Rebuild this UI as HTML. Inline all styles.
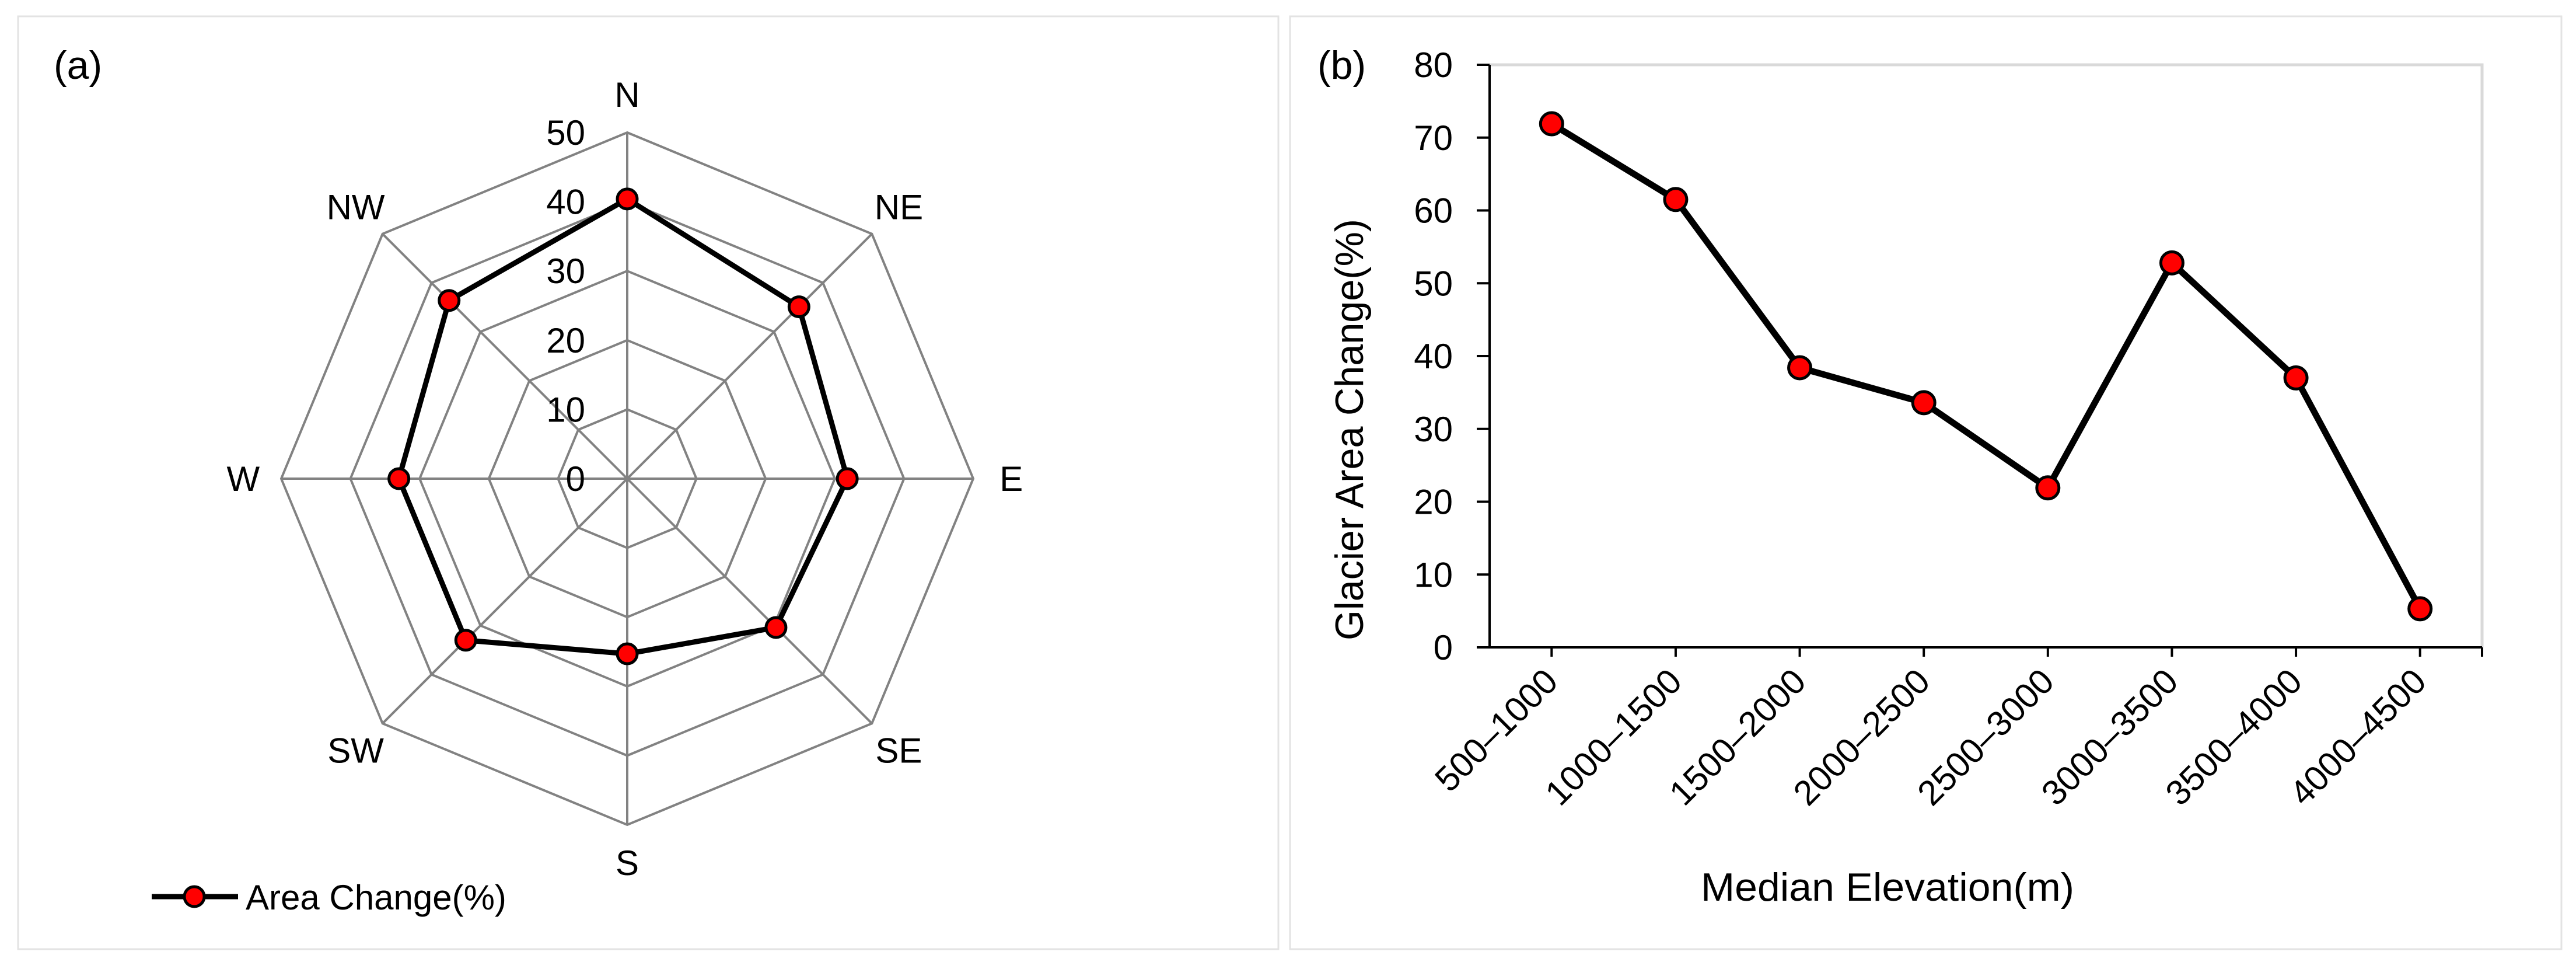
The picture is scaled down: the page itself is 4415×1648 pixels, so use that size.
<!DOCTYPE html>
<html><head><meta charset="utf-8"><style>
html,body{margin:0;padding:0;background:#fff;}
svg{display:block;font-family:"Liberation Sans",sans-serif;}
</style></head><body>
<svg id="fig" width="4415" height="1648" viewBox="0 0 4415 1648" xmlns="http://www.w3.org/2000/svg">
<rect x="31" y="28" width="2160" height="1598" fill="none" stroke="#e3e3e3" stroke-width="3"/>
<rect x="2211" y="28" width="2179" height="1598" fill="none" stroke="#e3e3e3" stroke-width="3"/>
<text x="92" y="135" font-size="68">(a)</text>
<text x="2258" y="135" font-size="68">(b)</text>
<g id="radar"></g>
<g id="line"></g>
</svg>
<script>
const NS='http://www.w3.org/2000/svg';
function mk(p,t,a){const e=document.createElementNS(NS,t);for(const k in a)e.setAttribute(k,a[k]);p.appendChild(e);return e;}

// Radar data
const dirs=['N','NE','E','SE','S','SW','W','NW'];
const dirValues=[40.4,35.1,31.8,30.4,25.3,33.0,33.0,36.4];
const radarTicks=[0,10,20,30,40,50];

// Line data
const elevCats=['500–1000','1000–1500','1500–2000','2000–2500','2500–3000','3000–3500','3500–4000','4000–4500'];
const areaChange=[71.9,61.5,38.4,33.6,21.9,52.8,37.0,5.3];
const yTicks=[0,10,20,30,40,50,60,70,80];

// ---- radar ----
(function(){
const g=document.getElementById('radar');
const cx=1075,cy=820,R=593,max=50;
function pt(i,v){const a=-Math.PI/2+i*2*Math.PI/dirs.length;const r=v/max*R;return [cx+r*Math.cos(a),cy+r*Math.sin(a)];}
radarTicks.slice(1).forEach(t=>{
 const pts=dirs.map((d,i)=>pt(i,t).join(',')).join(' ');
 const e=mk(g,'polygon',{points:pts,fill:'none',stroke:'#828282','stroke-width':4});
 
 
});
dirs.forEach((d,i)=>{
 const p=pt(i,max);
 const e=mk(g,'line',{x1:cx,y1:cy,x2:p[0],y2:p[1],stroke:'#828282','stroke-width':4});
 
 
 const lp=pt(i,max*1.11);
 const tx=mk(g,'text',{x:lp[0],y:lp[1]+21,'font-size':60,'text-anchor':'middle'});
 tx.textContent=d;
 
 
});
radarTicks.forEach(t=>{
 const p=pt(0,t);
 const tx=mk(g,'text',{x:p[0]-72,y:p[1]+21,'font-size':60,'text-anchor':'end'});
 tx.textContent=t;
 
 
});
const sp=dirValues.map((v,i)=>pt(i,v).join(',')).join(' ');
const poly=mk(g,'polygon',{points:sp,fill:'none',stroke:'#000','stroke-width':9,'stroke-linejoin':'round'});


dirValues.forEach((v,i)=>{
 const p=pt(i,v);
 const c=mk(g,'circle',{cx:p[0],cy:p[1],r:17,fill:'#ff0000',stroke:'#000','stroke-width':5});
 
 
});
const lg=mk(g,'g',{});


mk(lg,'line',{x1:260,y1:1536,x2:408,y2:1536,stroke:'#000','stroke-width':9});
mk(lg,'circle',{cx:333,cy:1536,r:17,fill:'#ff0000',stroke:'#000','stroke-width':5});
const lt=mk(lg,'text',{x:421,y:1558,'font-size':60});
lt.textContent='Area Change(%)';
})();

// ---- line chart ----
(function(){
const g=document.getElementById('line');
const x0=2553,x1=4254,y0=1109,y1=111,ymax=80;
const bw=(x1-x0)/elevCats.length;
const X=i=>x0+bw*(i+0.5);
const Y=v=>y0-(v/ymax)*(y0-y1);
const pb=mk(g,'polyline',{points:`${x0},${y1} ${x1},${y1} ${x1},${y0}`,fill:'none',stroke:'#d9d9d9','stroke-width':5});


const ya=mk(g,'line',{x1:x0,y1:y1,x2:x0,y2:y0,stroke:'#000','stroke-width':4});


const xa=mk(g,'line',{x1:x0-22,y1:y0,x2:x1,y2:y0,stroke:'#000','stroke-width':4});


yTicks.forEach(t=>{
 const y=Y(t);
 const tk=mk(g,'line',{x1:x0-22,y1:y,x2:x0,y2:y,stroke:'#000','stroke-width':4});
 
 
 const tx=mk(g,'text',{x:2490,y:y+21,'font-size':60,'text-anchor':'end'});
 tx.textContent=t;
 
 
});
elevCats.forEach((c,i)=>{
 const x=X(i);
 const tk=mk(g,'line',{x1:x,y1:y0,x2:x,y2:y0+16,stroke:'#000','stroke-width':4});
 
 
 const tx=mk(g,'text',{x:x+14,y:y0+62,'font-size':60,'text-anchor':'end',transform:`rotate(-45 ${x+14} ${y0+62})`});
 tx.textContent=c;
 
 
});
const endTk=mk(g,'line',{x1:x1,y1:y0,x2:x1,y2:y0+16,stroke:'#000','stroke-width':4});


const pl=mk(g,'polyline',{points:areaChange.map((v,i)=>X(i)+','+Y(v)).join(' '),fill:'none',stroke:'#000','stroke-width':11,'stroke-linejoin':'round'});


areaChange.forEach((v,i)=>{
 const c=mk(g,'circle',{cx:X(i),cy:Y(v),r:19,fill:'#ff0000',stroke:'#000','stroke-width':5});
 
 
});
const yt=mk(g,'text',{x:2336,y:736,'font-size':68,'text-anchor':'middle',transform:'rotate(-90 2336 736)',textLength:722,lengthAdjust:'spacingAndGlyphs'});
yt.textContent='Glacier Area Change(%)';


const xt=mk(g,'text',{x:3235,y:1543,'font-size':68,'text-anchor':'middle',textLength:640,lengthAdjust:'spacingAndGlyphs'});
xt.textContent='Median Elevation(m)';


})();
</script>
</body></html>
